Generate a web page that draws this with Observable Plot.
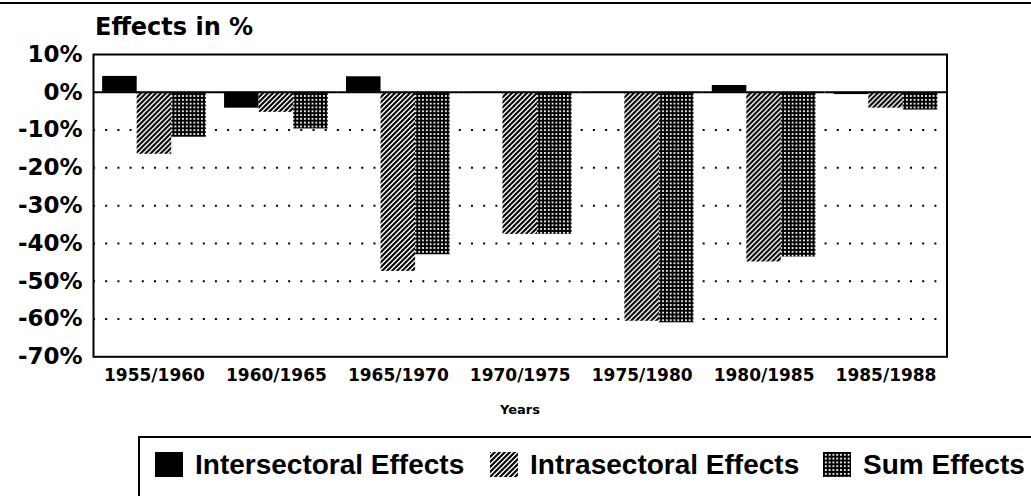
<!DOCTYPE html>
<html>
<head>
<meta charset="utf-8">
<script src="https://cdn.jsdelivr.net/npm/d3@7"></script>
<script src="https://cdn.jsdelivr.net/npm/@observablehq/plot@0.6"></script>
<style>
  html, body { margin: 0; padding: 0; background: #fff; color: #000; }
  body { width: 1031px; height: 496px; overflow: hidden; position: relative; font-family: "DejaVu Sans", sans-serif; }
  #topline { position: absolute; left: 0; top: 2px; width: 1031px; height: 2px; background: #000; }
  #title { position: absolute; left: 95px; top: 15px; font: bold 24px/24px "DejaVu Sans", sans-serif; white-space: nowrap; }
  #chart { position: absolute; left: 0; top: 40px; }
  #xlabel { position: absolute; left: 420px; width: 200px; text-align: center; top: 403px; font: bold 13px/13px "DejaVu Sans", sans-serif; }
  #legendbox { position: absolute; left: 138px; top: 436px; width: 1000px; height: 100px; border-top: 2px solid #000; border-left: 2px solid #000; }
  .lg-swatch { position: absolute; top: 452px; }
  .lg-text { position: absolute; top: 451px; font: bold 28px/28px "Liberation Sans", Arial, sans-serif; white-space: nowrap; }
</style>
</head>
<body>
<div id="topline"></div>
<div id="title">Effects in %</div>
<div id="chart"></div>
<div id="xlabel">Years</div>
<div id="legendbox"></div>
<div id="legend"></div>
<script>
// ---- data ----
const periods = ["1955/1960", "1960/1965", "1965/1970", "1970/1975", "1975/1980", "1980/1985", "1985/1988"];
const seriesNames = ["Intersectoral Effects", "Intrasectoral Effects", "Sum Effects"];
const intersectoral = [4.2, -4.2, 4.1, -0.3, -0.3, 1.8, -0.6];
const intrasectoral = [-16.4, -5.3, -47.4, -37.6, -60.6, -44.9, -4.2];
const sumEffects = [-11.9, -9.7, -43.0, -37.6, -61.0, -43.6, -4.7];
const yTicks = [10, 0, -10, -20, -30, -40, -50, -60, -70];
const gridValues = [-10, -20, -30, -40, -50, -60];

const seriesValues = [intersectoral, intrasectoral, sumEffects];
const data = periods.flatMap((p, i) =>
  seriesNames.map((s, k) => ({ period: p, series: s, value: seriesValues[k][i] }))
);
const fills = ["black", "url(#hatchPat)", "url(#gridPat)"];

const width = 1031, marginLeft = 93, marginRight = 84.5;
const padInner = 0.15, padOuter = 0.075;
const step = (width - marginLeft - marginRight) / (periods.length - padInner + 2 * padOuter);
const gapInset = -padOuter * step; // extend rules/frame across the gaps outside the facets

const plot = Plot.plot({
  width,
  height: 350,
  marginLeft,
  marginRight,
  marginTop: 14,
  marginBottom: 33.7,
  style: { background: "transparent", fontFamily: "DejaVu Sans", color: "black", overflow: "visible" },
  fx: { domain: periods, paddingInner: padInner, paddingOuter: padOuter, round: false, label: null },
  x: { domain: seriesNames, padding: 0, round: false, axis: null },
  y: { domain: [-70, 10], label: null },
  color: { domain: seriesNames, range: fills },
  marks: [
    Plot.ruleY(gridValues, { stroke: "black", strokeWidth: 2, strokeDasharray: "2,10.2", insetLeft: gapInset, insetRight: gapInset }),
    Plot.barY(data, { fx: "period", x: "series", y: "value", fill: "series" }),
    Plot.ruleY([0], { stroke: "black", strokeWidth: 2, insetLeft: gapInset, insetRight: gapInset }),
    Plot.frame({ facet: "super", stroke: "black", strokeWidth: 2, insetLeft: gapInset, insetRight: gapInset }),
    Plot.axisY({ ticks: yTicks, tickSize: 0, tickPadding: 11 - gapInset, tickFormat: d => d + "%", fontSize: 23, fontWeight: "bold", label: null }),
    Plot.axisFx({ anchor: "bottom", tickSize: 0, tickPadding: 12, fontSize: 17, fontWeight: "bold", label: null })
  ]
});

// patterns
const defs = d3.select(plot).insert("defs", ":first-child");
const h = 5;
const hp = defs.append("pattern").attr("id", "hatchPat").attr("patternUnits", "userSpaceOnUse").attr("width", h).attr("height", h);
hp.append("rect").attr("width", h).attr("height", h).attr("fill", "white");
hp.append("path").attr("d", `M-1,1 L1,-1 M0,${h} L${h},0 M${h-1},${h+1} L${h+1},${h-1}`).attr("stroke", "black").attr("stroke-width", 2.1);
const g = 3.8;
const gp = defs.append("pattern").attr("id", "gridPat").attr("patternUnits", "userSpaceOnUse").attr("width", g).attr("height", g);
gp.append("rect").attr("width", g).attr("height", g).attr("fill", "black");
gp.append("rect").attr("x", 1.9).attr("y", 1.9).attr("width", 1.8).attr("height", 1.8).attr("fill", "white");

document.getElementById("chart").appendChild(plot);

// legend
const swatchLeft = [155, 490, 823];
const textLeft = [195, 530, 863];
const legend = document.getElementById("legend");
seriesNames.forEach((name, k) => {
  const sw = document.createElementNS("http://www.w3.org/2000/svg", "svg");
  sw.setAttribute("width", 28);
  sw.setAttribute("height", 25);
  sw.setAttribute("class", "lg-swatch");
  sw.style.left = swatchLeft[k] + "px";
  const r = document.createElementNS("http://www.w3.org/2000/svg", "rect");
  r.setAttribute("width", 28);
  r.setAttribute("height", 25);
  r.setAttribute("fill", fills[k]);
  sw.appendChild(r);
  legend.appendChild(sw);
  const t = document.createElement("div");
  t.className = "lg-text";
  t.style.left = textLeft[k] + "px";
  t.textContent = name;
  legend.appendChild(t);
});
</script>
</body>
</html>
